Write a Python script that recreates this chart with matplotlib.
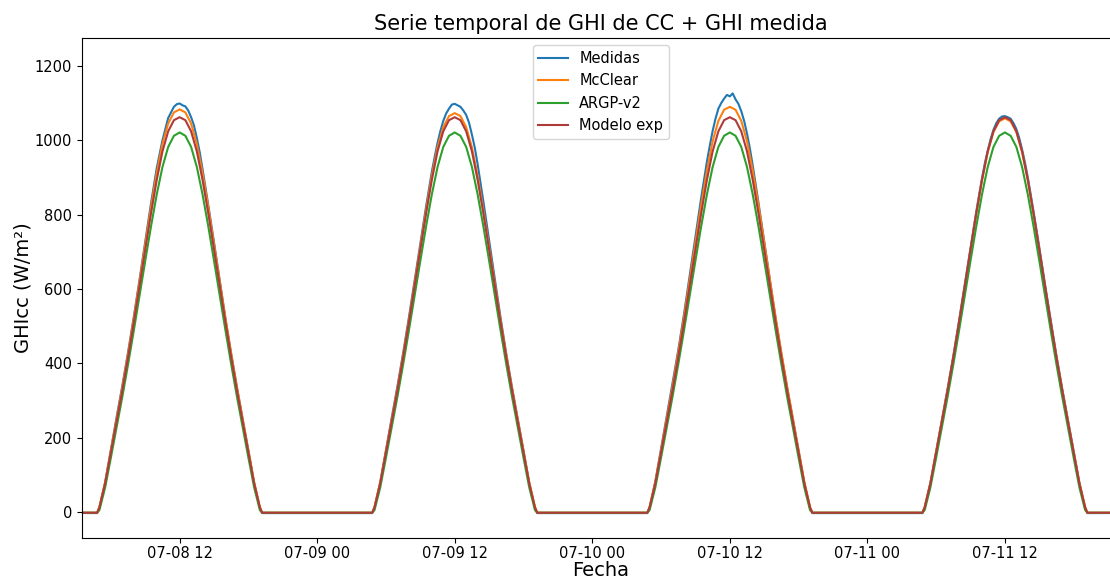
import matplotlib
matplotlib.use("Agg")
import matplotlib.pyplot as plt
import matplotlib.dates as mdates
import numpy as np
import pandas as pd

# Days shown and the daytime sample hours (half-hourly)
DAYS = ["2021-07-08", "2021-07-09", "2021-07-10", "2021-07-11"]
HOURS = [4.8, 5.0, 5.5, 6.0, 6.5, 7.0, 7.5, 8.0, 8.5, 9.0, 9.5, 10.0, 10.5, 11.0,
         11.5, 12.0, 12.5, 13.0, 13.5, 14.0, 14.5, 15.0, 15.5, 16.0, 16.5, 17.0,
         17.5, 18.0, 18.5, 19.0, 19.2]
# Measured series has a finer grid around noon
MED_HOURS = [4.8, 5.0, 5.5, 6.0, 6.5, 7.0, 7.5, 8.0, 8.5, 9.0, 9.5, 10.0,
             10.25, 10.5, 10.75, 11.0, 11.25, 11.5, 11.75, 12.0, 12.25, 12.5,
             12.75, 13.0, 13.25, 13.5, 13.75, 14.0, 14.5, 15.0, 15.5, 16.0,
             16.5, 17.0, 17.5, 18.0, 18.5, 19.0, 19.2]

MEDIDAS = [
    [-3, 12, 80, 168, 255, 340, 430, 525, 625, 728, 830, 925, 962, 1000, 1030,
     1060, 1075, 1090, 1097, 1099, 1094, 1091, 1080, 1062, 1040, 1006, 968, 922,
     825, 725, 622, 520, 425, 335, 250, 165, 78, 10, -3],
    [-3, 12, 80, 167, 253, 338, 428, 523, 622, 722, 822, 915, 955, 993, 1025,
     1052, 1072, 1085, 1096, 1098, 1094, 1090, 1080, 1068, 1047, 1015, 980, 935,
     835, 730, 625, 522, 425, 335, 250, 165, 78, 10, -3],
    [-3, 12, 82, 170, 258, 345, 435, 532, 635, 740, 845, 942, 985, 1025, 1058,
     1085, 1100, 1112, 1122, 1118, 1126, 1110, 1098, 1078, 1052, 1018, 978, 932,
     832, 728, 624, 520, 425, 335, 250, 165, 78, 10, -3],
    [-3, 12, 78, 163, 248, 332, 420, 515, 612, 710, 808, 898, 938, 972, 1003,
     1028, 1046, 1058, 1064, 1065, 1062, 1058, 1046, 1030, 1006, 975, 940, 900,
     808, 712, 612, 515, 420, 332, 248, 163, 78, 10, -3],
]
MCCLEAR = [
    [-2, 14, 80, 165, 250, 335, 425, 520, 620, 720, 820, 912, 990, 1045, 1075,
     1083, 1075, 1045, 990, 912, 820, 720, 620, 520, 425, 335, 250, 165, 80, 14, -2],
    [-2, 14, 80, 164, 248, 332, 422, 516, 615, 714, 812, 904, 981, 1035, 1065,
     1073, 1065, 1035, 981, 904, 812, 714, 615, 516, 422, 332, 248, 164, 80, 14, -2],
    [-2, 14, 81, 166, 252, 337, 428, 523, 624, 725, 826, 918, 997, 1052, 1082,
     1090, 1082, 1052, 997, 918, 826, 725, 624, 523, 428, 337, 252, 166, 81, 14, -2],
    [-2, 14, 78, 162, 245, 328, 416, 510, 607, 705, 802, 892, 968, 1022, 1051,
     1059, 1051, 1022, 968, 892, 802, 705, 607, 510, 416, 328, 245, 162, 78, 14, -2],
]
# Models look the same every day
ARGP_DAY = [-2, 5, 66, 146, 228, 310, 397, 488, 582, 676, 768, 854, 928, 982, 1012,
            1021, 1012, 982, 928, 854, 768, 676, 582, 488, 397, 310, 228, 146, 66, 5, -2]
MODELO_DAY = [-2, 12, 77, 160, 243, 327, 416, 510, 608, 706, 803, 893, 970, 1024, 1054,
              1062, 1054, 1024, 970, 893, 803, 706, 608, 510, 416, 327, 243, 160, 77, 12, -2]

T_START = pd.Timestamp("2021-07-08 00:00")
T_END = pd.Timestamp("2021-07-12 06:00")
NIGHT = -2


def build(hours, day_values):
    t = [T_START]
    v = [NIGHT]
    for day, vals in zip(DAYS, day_values):
        base = pd.Timestamp(day)
        t += [base + pd.Timedelta(hours=h) for h in hours]
        v += list(vals)
    t.append(T_END)
    v.append(NIGHT)
    return t, v


series = [
    ("Medidas", build(MED_HOURS, MEDIDAS), "#1f77b4"),
    ("McClear", build(HOURS, MCCLEAR), "#ff7f0e"),
    ("ARGP-v2", build(HOURS, [ARGP_DAY] * 4), "#2ca02c"),
    ("Modelo exp", build(HOURS, [MODELO_DAY] * 4), "#b03a3a"),
]

fig = plt.figure(figsize=(11.10, 5.78), dpi=100)
# axes run past the right edge of the canvas, as in the cropped original
ax = fig.add_axes([0.0739, 0.0692, 0.95, 0.865])
XC = 0.492  # visible centre of the cropped axes

for name, (t, v), col in series:
    ax.plot(t, v, color=col, lw=1.5, label=name)

ax.set_xlim(pd.Timestamp("2021-07-08 03:29"), pd.Timestamp("2021-07-11 23:29"))
ax.set_ylim(-70, 1275)
ax.set_yticks([0, 200, 400, 600, 800, 1000, 1200])
ax.xaxis.set_major_locator(mdates.HourLocator(byhour=[0, 12]))
ax.xaxis.set_major_formatter(mdates.DateFormatter("%m-%d %H"))
ax.tick_params(labelsize=10.5)
ax.tick_params(axis="x", pad=2.5)

ax.set_title("Serie temporal de GHI de CC + GHI medida", fontsize=15, x=XC)
ax.set_xlabel("Fecha", fontsize=14)
ax.xaxis.set_label_coords(XC, -0.045)
ax.set_ylabel("GHIcc (W/m²)", fontsize=14, labelpad=2)
ax.legend(loc="upper center", bbox_to_anchor=(XC, 1.0), fontsize=10.5)

fig.savefig("out.png", dpi=100)
